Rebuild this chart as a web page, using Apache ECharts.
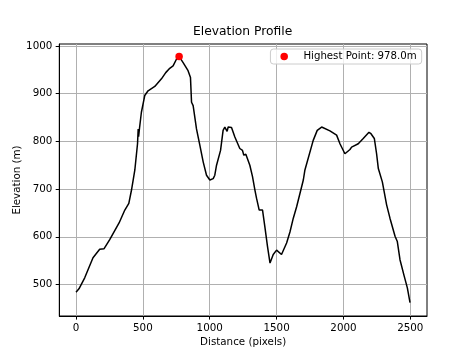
<!DOCTYPE html>
<html>
<head>
<meta charset="utf-8">
<script src="https://cdn.jsdelivr.net/npm/echarts@6/dist/echarts.min.js"></script>
<style>html,body{margin:0;padding:0;background:#fff}#c{width:474px;height:355px}</style>
</head>
<body>
<div id="c"></div>
<script>
const distances = [0,22,65,127,177,210,252,322,365,395,415,428,440,460,465,468,475,489,514,539,589,639,671,701,726,751,771,801,838,856,864,876,901,926,951,976,1001,1026,1038,1051,1063,1081,1100,1113,1130,1138,1163,1188,1225,1245,1255,1270,1300,1320,1338,1350,1362,1370,1383,1395,1412,1432,1451,1475,1500,1537,1575,1600,1625,1650,1700,1712,1774,1804,1837,1899,1949,1974,2011,2024,2049,2061,2111,2148,2191,2206,2231,2248,2261,2291,2323,2348,2386,2403,2423,2455,2478,2498];
const elevations = [484,491,514,556,574,575,594,629,656,670,698,720,740,795,826,810,828,861,896,906,915,931,944,953,958,972,978,965,948,934,882,875,826,792,757,729,719,722,729,750,750,781,823,830,821,830,829,809,785,781,771,773,750,726,698,681,677,656,653,656,622,580,545,563,572,563,587,610,639,663,719,740,802,823,830,822,813,795,774,772,783,788,795,806,819,816,806,774,743,715,667,639,601,590,552,517,493,462];
const peakDistance = 771;
const peakElevation = 978;
const xTicks = [0,500,1000,1500,2000,2500];
const yTicks = [500,600,700,800,900,1000];
const titleText = 'Elevation Profile';
const xName = 'Distance (pixels)';
const yName = 'Elevation (m)';
const legendText = 'Highest Point: ' + peakElevation.toFixed(1) + 'm';

const lineData = distances.map((d,i)=>[d, elevations[i]]);
const font = 'DejaVu Sans';
const chart = echarts.init(document.getElementById('c'), null, {renderer:'canvas'});
chart.setOption({
  animation:false,
  backgroundColor:'#fff',
  title:{text:titleText,left:193,top:26,textStyle:{fontFamily:font,fontSize:12.3,fontWeight:'normal',color:'#000'},padding:0,
    itemGap:0},
  grid:{left:59.3,right:47,top:44,bottom:39,show:true,borderColor:'#000',borderWidth:1,containLabel:false,outerBoundsMode:'none'},
  legend:{right:52.3,top:49,orient:'horizontal',padding:[2.5,5,2.5,10],itemWidth:7.5,itemHeight:7.5,
    backgroundColor:'rgba(255,255,255,0.8)',borderColor:'#cccccc',borderWidth:1,borderRadius:3,
    textStyle:{fontFamily:font,fontSize:10.2,color:'#000',padding:[0,0,0,10.5]},
    itemStyle:{opacity:1},
    data:[{name:legendText,icon:'circle'}]},
  xAxis:{type:'value',min:-125,max:2625,
    name:xName,nameLocation:'middle',nameGap:21,nameMoveOverlap:false,nameTextStyle:{fontFamily:font,fontSize:10.3,color:'#000'},
    axisLine:{show:true,onZero:false,lineStyle:{color:'#000',width:1}},
    axisTick:{show:true,length:3.6,lineStyle:{color:'#000',width:1},customValues:xTicks},
    axisLabel:{fontFamily:font,fontSize:10.3,color:'#000',margin:7,customValues:xTicks,formatter:v=>String(v)},
    splitLine:{show:true,lineStyle:{color:'#b0b0b0',width:1}}},
  yAxis:{type:'value',min:434,max:1004,
    name:yName,nameLocation:'middle',nameGap:37,nameMoveOverlap:false,nameRotate:90,nameTextStyle:{fontFamily:font,fontSize:10.3,color:'#000'},
    axisLine:{show:true,onZero:false,lineStyle:{color:'#000',width:1}},
    axisTick:{show:true,length:3.6,lineStyle:{color:'#000',width:1},customValues:yTicks},
    axisLabel:{fontFamily:font,fontSize:10.3,color:'#000',margin:7,customValues:yTicks,formatter:v=>String(v)},
    splitLine:{show:true,lineStyle:{color:'#b0b0b0',width:1}}},
  series:[
    {type:'line',data:lineData,showSymbol:false,symbol:'none',lineStyle:{color:'#000',width:1.5},z:2},
    {type:'scatter',name:legendText,data:[[peakDistance,peakElevation]],symbol:'circle',symbolSize:7.5,itemStyle:{color:'#ff0000',opacity:1},z:3}
  ]
});
</script>
</body>
</html>
